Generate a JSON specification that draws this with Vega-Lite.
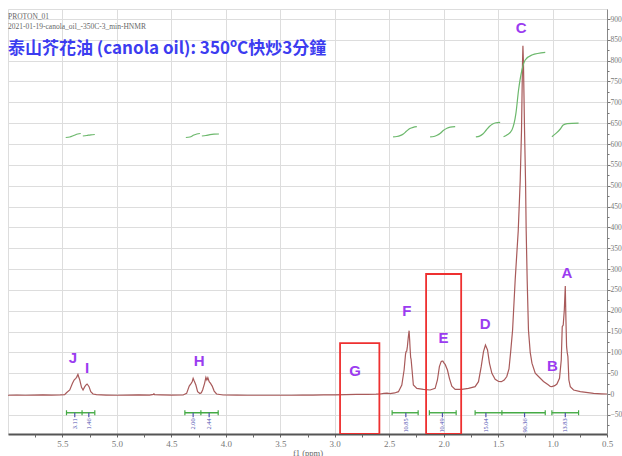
{
  "$schema": "https://vega.github.io/schema/vega-lite/v6.json",
  "width": 599,
  "height": 425,
  "autosize": {"type": "none"},
  "padding": {"left": 8, "top": 9, "right": 15, "bottom": 22},
  "background": "white",
  "config": {"view": {"stroke": "#dddddd", "strokeWidth": 1}, "axis": {"labelOverlap": false, "labelSeparation": 0}},
  "resolve": {"axis": {"x": "independent", "y": "independent"}},
  "title": {
    "text": ["PROTON_01", "2021-01-19-canola_oil_-350C-3_min-HNMR"],
    "subtitle": "泰山芥花油 (canola oil): 350ºC快炒3分鐘",
    "anchor": "start",
    "frame": "group",
    "orient": "top",
    "offset": -48,
    "font": "Liberation Serif",
    "fontSize": 7.5,
    "fontWeight": "normal",
    "color": "#666666",
    "lineHeight": 10,
    "subtitleFont": "Noto Sans CJK TC",
    "subtitleFontSize": 17,
    "subtitleFontWeight": "bold",
    "subtitleColor": "#3c3cf0",
    "subtitlePadding": 11
  },
  "datasets": {
    "spec": [
      {"p":6.00,"v":-3},{"p":5.92,"v":-2.5},{"p":5.84,"v":-3},{"p":5.76,"v":-2.5},{"p":5.68,"v":-2},{"p":5.60,"v":-2.5},{"p":5.52,"v":-2},{"p":5.48,"v":-1.5},
      {"p":5.463,"v":3},{"p":5.433,"v":9.6},{"p":5.408,"v":25.6},{"p":5.393,"v":33.6},{"p":5.378,"v":37.6},{"p":5.370,"v":40},{"p":5.364,"v":44},{"p":5.358,"v":47},{"p":5.352,"v":42},{"p":5.341,"v":33.6},{"p":5.325,"v":16},{"p":5.311,"v":9.6},{"p":5.295,"v":17.6},{"p":5.283,"v":22},{"p":5.274,"v":24},{"p":5.265,"v":21},{"p":5.256,"v":17.6},{"p":5.240,"v":5.6},{"p":5.219,"v":0},{"p":5.188,"v":-1.6},
      {"p":5.10,"v":-2.5},{"p":5.00,"v":-3},{"p":4.90,"v":-2.5},{"p":4.80,"v":-2},{"p":4.70,"v":-2.5},{"p":4.665,"v":-1},{"p":4.66,"v":0.5},{"p":4.655,"v":-1.5},{"p":4.60,"v":-2},{"p":4.50,"v":-2.5},
      {"p":4.392,"v":-2.4},{"p":4.360,"v":1.6},{"p":4.336,"v":19},{"p":4.318,"v":25.6},{"p":4.308,"v":30},{"p":4.300,"v":37.6},{"p":4.293,"v":33},{"p":4.287,"v":29.6},{"p":4.275,"v":21.6},{"p":4.259,"v":5.6},{"p":4.238,"v":1},{"p":4.225,"v":3},{"p":4.213,"v":9.6},{"p":4.195,"v":25.6},{"p":4.183,"v":40},{"p":4.174,"v":33.6},{"p":4.165,"v":39},{"p":4.153,"v":29.6},{"p":4.140,"v":25.6},{"p":4.125,"v":19},{"p":4.107,"v":7},{"p":4.085,"v":0},{"p":4.024,"v":-2.4},
      {"p":3.90,"v":-2.5},{"p":3.80,"v":-3},{"p":3.70,"v":-3},{"p":3.60,"v":-3},{"p":3.50,"v":-3},{"p":3.40,"v":-3},{"p":3.30,"v":-2.5},{"p":3.20,"v":-2.5},{"p":3.10,"v":-2},{"p":3.00,"v":-2},{"p":2.90,"v":-1.5},{"p":2.80,"v":-1},{"p":2.70,"v":-1},{"p":2.62,"v":-0.5},{"p":2.584,"v":0},{"p":2.55,"v":1.5},{"p":2.52,"v":2},{"p":2.492,"v":1},{"p":2.45,"v":2.5},
      {"p":2.415,"v":5.6},{"p":2.384,"v":21.6},{"p":2.363,"v":57.6},{"p":2.350,"v":95},{"p":2.345,"v":101.6},{"p":2.339,"v":103},{"p":2.333,"v":113.6},{"p":2.325,"v":135},{"p":2.317,"v":152},{"p":2.312,"v":130},{"p":2.308,"v":109.6},{"p":2.303,"v":88},{"p":2.299,"v":84},{"p":2.290,"v":57.6},{"p":2.278,"v":21.6},{"p":2.246,"v":13.6},{"p":2.186,"v":11.2},{"p":2.124,"v":9.6},{"p":2.078,"v":13.6},
      {"p":2.057,"v":33.6},{"p":2.039,"v":65.6},{"p":2.023,"v":77.6},{"p":2.015,"v":79},{"p":2.007,"v":79},{"p":1.996,"v":74},{"p":1.986,"v":71},{"p":1.965,"v":57.6},{"p":1.947,"v":37.6},{"p":1.925,"v":19},{"p":1.894,"v":11.2},{"p":1.833,"v":11.2},{"p":1.772,"v":13.6},{"p":1.711,"v":17.6},
      {"p":1.680,"v":29.6},{"p":1.655,"v":65.6},{"p":1.634,"v":101.6},{"p":1.616,"v":117.6},{"p":1.597,"v":105.6},{"p":1.579,"v":73.6},{"p":1.557,"v":49.6},{"p":1.527,"v":35.2},{"p":1.495,"v":30},{"p":1.470,"v":29.6},{"p":1.444,"v":33.6},
      {"p":1.42,"v":42},{"p":1.40,"v":60},{"p":1.385,"v":100},{"p":1.367,"v":153},{"p":1.343,"v":274},{"p":1.315,"v":392},{"p":1.297,"v":512},{"p":1.285,"v":632},{"p":1.276,"v":793},{"p":1.272,"v":836},{"p":1.267,"v":793},{"p":1.257,"v":632},{"p":1.248,"v":512},{"p":1.242,"v":392},{"p":1.233,"v":274},{"p":1.221,"v":153},{"p":1.205,"v":100},{"p":1.189,"v":74},{"p":1.159,"v":50},{"p":1.129,"v":42},{"p":1.083,"v":30},{"p":1.04,"v":22},{"p":1.021,"v":18},{"p":1.006,"v":17.6},
      {"p":0.980,"v":20},{"p":0.960,"v":24},{"p":0.936,"v":37.6},{"p":0.920,"v":81.6},{"p":0.911,"v":161.6},{"p":0.902,"v":165.6},{"p":0.892,"v":201.6},{"p":0.883,"v":259},{"p":0.877,"v":177.6},{"p":0.871,"v":113.6},{"p":0.865,"v":99},{"p":0.859,"v":89.6},{"p":0.850,"v":33.6},{"p":0.837,"v":17.6},{"p":0.807,"v":9.6},{"p":0.745,"v":5.6},{"p":0.623,"v":1.6},{"p":0.55,"v":0.5},{"p":0.50,"v":0}
    ],
    "integ": [
      {"s":"JI1","p":5.470,"v":615.6},{"s":"JI1","p":5.433,"v":616.8},{"s":"JI1","p":5.396,"v":620.4},{"s":"JI1","p":5.359,"v":624},{"s":"JI1","p":5.332,"v":625.2},
      {"s":"JI2","p":5.313,"v":619.2},{"s":"JI2","p":5.277,"v":620.4},{"s":"JI2","p":5.240,"v":622},{"s":"JI2","p":5.203,"v":622.8},
      {"s":"H1","p":4.367,"v":615.6},{"s":"H1","p":4.330,"v":616.8},{"s":"H1","p":4.293,"v":621.6},{"s":"H1","p":4.266,"v":624},{"s":"H1","p":4.238,"v":625.2},
      {"s":"H2","p":4.220,"v":619.2},{"s":"H2","p":4.183,"v":620.4},{"s":"H2","p":4.146,"v":622.3},{"s":"H2","p":4.109,"v":623.5},{"s":"H2","p":4.063,"v":624},
      {"s":"F","p":2.464,"v":617},{"s":"F","p":2.43,"v":618},{"s":"F","p":2.40,"v":620},{"s":"F","p":2.37,"v":624},{"s":"F","p":2.34,"v":631},{"s":"F","p":2.31,"v":637},{"s":"F","p":2.28,"v":640},{"s":"F","p":2.246,"v":641.5},
      {"s":"E","p":2.124,"v":617},{"s":"E","p":2.09,"v":618},{"s":"E","p":2.06,"v":621},{"s":"E","p":2.03,"v":626},{"s":"E","p":2.00,"v":633},{"s":"E","p":1.97,"v":638},{"s":"E","p":1.94,"v":640.5},{"s":"E","p":1.894,"v":641.5},
      {"s":"D","p":1.704,"v":617},{"s":"D","p":1.67,"v":619},{"s":"D","p":1.64,"v":624},{"s":"D","p":1.61,"v":633},{"s":"D","p":1.58,"v":642},{"s":"D","p":1.55,"v":648},{"s":"D","p":1.52,"v":651},{"s":"D","p":1.481,"v":652},
      {"s":"C","p":1.450,"v":617.5},{"s":"C","p":1.416,"v":622},{"s":"C","p":1.373,"v":633.6},{"s":"C","p":1.336,"v":674},{"s":"C","p":1.312,"v":729.6},{"s":"C","p":1.281,"v":777.6},{"s":"C","p":1.251,"v":801.6},{"s":"C","p":1.189,"v":813.6},{"s":"C","p":1.067,"v":820},
      {"s":"A","p":1.006,"v":617.5},{"s":"A","p":0.966,"v":626},{"s":"A","p":0.929,"v":636},{"s":"A","p":0.902,"v":645.6},{"s":"A","p":0.865,"v":649},{"s":"A","p":0.761,"v":650}
    ],
    "bars": [
      {"a":5.463,"b":5.203},{"a":4.376,"b":4.070},{"a":2.473,"b":2.234},{"a":2.131,"b":1.885},{"a":1.711,"b":1.465},{"a":1.465,"b":1.067},{"a":1.006,"b":0.761}
    ],
    "gticks": [
      {"p":5.463},{"p":5.320},{"p":5.203},{"p":4.376},{"p":4.229},{"p":4.070},{"p":2.473},{"p":2.234},{"p":2.131},{"p":1.885},{"p":1.711},{"p":1.465},{"p":1.067},{"p":1.006},{"p":0.761}
    ],
    "ilab": [
      {"p":5.387,"t":"3.11"},{"p":5.258,"t":"1.46"},{"p":4.300,"t":"2.00"},{"p":4.153,"t":"2.44"},{"p":2.347,"t":"10.85"},{"p":2.011,"t":"10.49"},{"p":1.612,"t":"15.04"},{"p":1.257,"t":"90.36"},{"p":0.883,"t":"13.83"}
    ],
    "peaks": [
      {"k":"C","p":1.288,"v":878},{"k":"A","p":0.868,"v":290},{"k":"F","p":2.338,"v":200},{"k":"E","p":2.002,"v":134},{"k":"D","p":1.619,"v":168},{"k":"B","p":1.000,"v":67},{"k":"J","p":5.403,"v":86},{"k":"I","p":5.274,"v":62},{"k":"H","p":4.244,"v":80},{"k":"G","p":2.813,"v":55}
    ],
    "boxes": [
      {"x1":2.951,"x2":2.590,"y1":-96,"y2":122},{"x1":2.161,"x2":1.839,"y1":-96,"y2":288}
    ]
  },
  "layer": [
    {
      "data": {"name": "spec"},
      "mark": {"type": "line", "color": "#a85a5a", "strokeWidth": 1.2, "clip": true},
      "encoding": {
        "x": {
          "field": "p", "type": "quantitative",
          "scale": {"domain": [6.0, 0.5], "nice": false, "zero": false},
          "axis": {
            "values": [0.5,1,1.5,2,2.5,3,3.5,4,4.5,5,5.5],
            "format": ".1f",
            "grid": true,
            "gridColor": "#dddddd",
            "domainColor": "#555555", "domainWidth": 2,
            "tickColor": "#666666", "tickSize": 3,
            "labelFont": "Liberation Serif", "labelFontSize": 9, "labelColor": "#777777",
            "labelOverlap": false, "labelFlush": false, "labelPadding": 2,
            "title": "f1 (ppm)", "titleFont": "Liberation Serif", "titleFontSize": 8.5,
            "titleFontWeight": "normal", "titleColor": "#666666", "titlePadding": 0
          }
        },
        "y": {
          "field": "v", "type": "quantitative",
          "scale": {"domain": [-96, 924], "nice": false, "zero": false},
          "axis": {
            "orient": "right",
            "values": [-50,0,50,100,150,200,250,300,350,400,450,500,550,600,650,700,750,800,850,900],
            "format": "d",
            "grid": true,
            "gridColor": "#dddddd",
            "tickSize": 3,
            "tickColor": "#777777", "domainColor": "#888888",
            "labelFont": "Liberation Serif", "labelFontSize": 7.5, "labelColor": "#777777",
            "labelOverlap": false, "labelFlush": false, "labelPadding": 0,
            "title": null
          }
        }
      }
    },
    {
      "data": {"name": "integ"},
      "mark": {"type": "line", "color": "#6cb86c", "strokeWidth": 1.2, "interpolate": "monotone"},
      "encoding": {
        "x": {"field": "p", "type": "quantitative",
          "axis": {"values": [0.75,1.25,1.75,2.25,2.75,3.25,3.75,4.25,4.75,5.25,5.75], "labels": false, "domain": false, "grid": false, "ticks": true, "tickSize": 3, "tickColor": "#666666", "title": null, "orient": "bottom"}},
        "y": {"field": "v", "type": "quantitative",
          "axis": {"values": [-75,-25,25,75,125,175,225,275,325,375,425,475,525,575,625,675,725,775,825,875], "labels": false, "domain": false, "grid": false, "ticks": true, "tickSize": 2, "tickColor": "#777777", "title": null, "orient": "right"}},
        "detail": {"field": "s"}
      }
    },
    {
      "data": {"name": "boxes"},
      "mark": {"type": "rect", "fill": null, "fillOpacity": 0, "stroke": "#ee3030", "strokeWidth": 1.8, "clip": true},
      "encoding": {
        "x": {"field": "x1", "type": "quantitative", "axis": null},
        "x2": {"field": "x2"},
        "y": {"field": "y1", "type": "quantitative", "axis": null},
        "y2": {"field": "y2"}
      }
    },
    {
      "data": {"name": "bars"},
      "mark": {"type": "rule", "color": "#44aa44", "strokeWidth": 1.4},
      "encoding": {
        "x": {"field": "a", "type": "quantitative", "axis": null},
        "x2": {"field": "b"},
        "y": {"datum": -45, "axis": null}
      }
    },
    {
      "data": {"name": "gticks"},
      "mark": {"type": "rule", "color": "#44aa44", "strokeWidth": 1.2},
      "encoding": {
        "x": {"field": "p", "type": "quantitative", "axis": null},
        "y": {"datum": -39, "axis": null},
        "y2": {"datum": -51}
      }
    },
    {
      "data": {"name": "ilab"},
      "mark": {"type": "rule", "color": "#5050b0", "strokeWidth": 1.2},
      "encoding": {
        "x": {"field": "p", "type": "quantitative", "axis": null},
        "y": {"datum": -45, "axis": null},
        "y2": {"datum": -56}
      }
    },
    {
      "data": {"name": "ilab"},
      "mark": {"type": "text", "angle": 270, "align": "right", "baseline": "middle", "font": "Liberation Serif", "fontSize": 6.3, "color": "#5050b0"},
      "encoding": {
        "x": {"field": "p", "type": "quantitative", "axis": null},
        "y": {"datum": -58.5, "axis": null},
        "text": {"field": "t"}
      }
    },
    {
      "data": {"name": "peaks"},
      "mark": {"type": "text", "font": "Liberation Sans", "fontWeight": "bold", "fontSize": 15, "color": "#9b3cf0", "align": "center", "baseline": "middle"},
      "encoding": {
        "x": {"field": "p", "type": "quantitative", "axis": null},
        "y": {"field": "v", "type": "quantitative", "axis": null},
        "text": {"field": "k"}
      }
    }
  ]
}
